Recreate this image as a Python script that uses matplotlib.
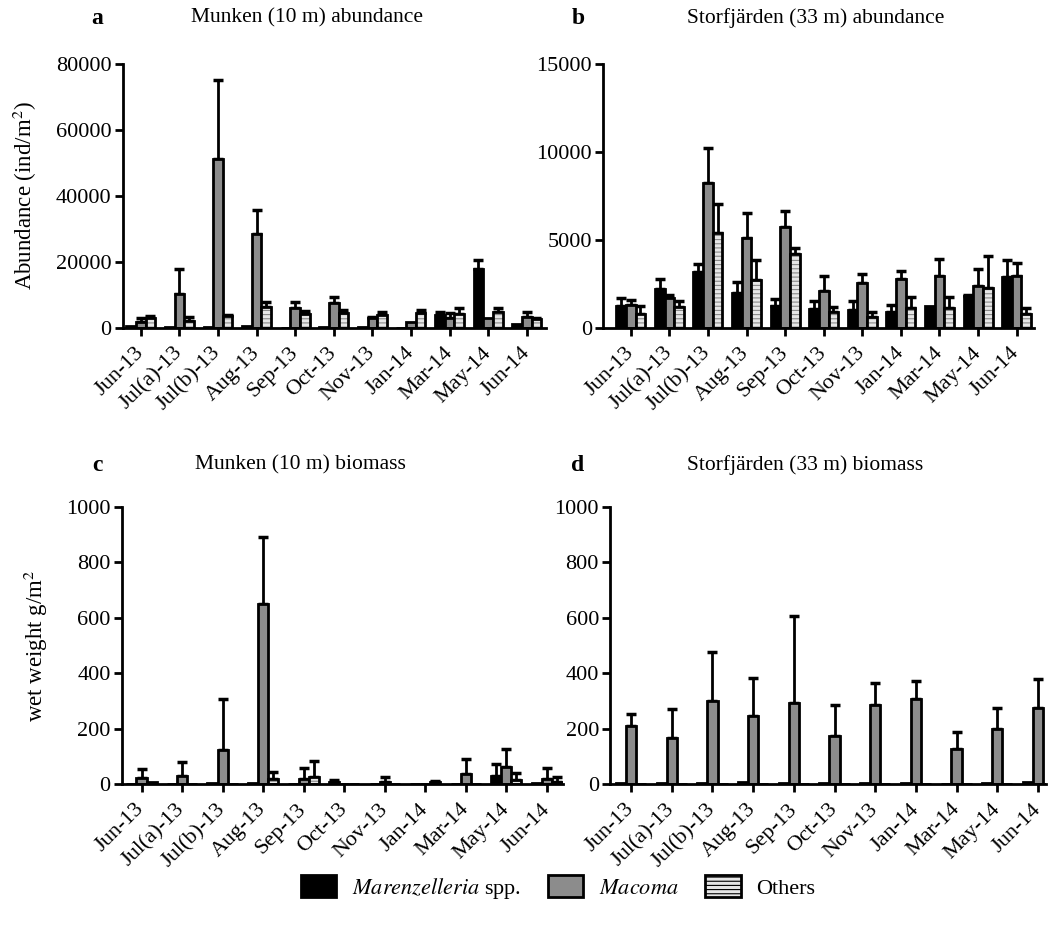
import numpy as np
import matplotlib
matplotlib.use('Agg')
import matplotlib.pyplot as plt
from matplotlib.patches import Patch

plt.rcParams['font.family'] = 'Liberation Serif'
plt.rcParams['mathtext.fontset'] = 'stix'
plt.rcParams['font.size'] = 16
plt.rcParams['hatch.linewidth'] = 0.8

months = ['Jun-13', 'Jul(a)-13', 'Jul(b)-13', 'Aug-13', 'Sep-13', 'Oct-13',
          'Nov-13', 'Jan-14', 'Mar-14', 'May-14', 'Jun-14']

# Munken abundance (ind/m2): mean and SD
munA_mar = [700, 200, 200, 500, 100, 200, 200, 100, 3800, 17900, 1100]
munA_mar_sd = [0, 0, 0, 0, 0, 0, 0, 0, 1200, 2700, 0]
munA_mac = [1900, 10300, 51300, 28600, 6100, 7600, 3100, 1900, 2900, 3100, 3200]
munA_mac_sd = [1000, 7500, 23800, 7200, 1800, 1700, 300, 0, 1700, 0, 1500]
munA_oth = [3100, 2100, 3600, 6500, 4100, 4400, 3800, 4500, 4200, 4900, 2600]
munA_oth_sd = [600, 1200, 300, 1400, 1100, 1000, 900, 900, 2000, 1300, 400]

# Storfjärden abundance
stoA_mar = [1230, 2210, 3160, 1990, 1230, 1100, 1040, 930, 1270, 1800, 2890]
stoA_mar_sd = [450, 590, 470, 640, 430, 410, 470, 380, 0, 50, 990]
stoA_mac = [1290, 1700, 8230, 5130, 5730, 2120, 2540, 2800, 2930, 2370, 2930]
stoA_mac_sd = [300, 190, 1990, 1400, 930, 850, 530, 450, 990, 960, 760]
stoA_oth = [810, 1170, 5390, 2740, 4180, 890, 610, 1150, 1150, 2270, 790]
stoA_oth_sd = [420, 380, 1630, 1140, 380, 300, 320, 630, 630, 1840, 330]

# Munken biomass (wet weight g/m2)
munB_mar = [2, 1, 3, 5, 1, 8, 1, 0, 1, 30, 5]
munB_mar_sd = [0, 0, 0, 0, 0, 8, 0, 0, 0, 44, 0]
munB_mac = [22, 30, 122, 650, 18, 1, 8, 1, 38, 64, 20]
munB_mac_sd = [33, 50, 184, 242, 40, 0, 18, 0, 53, 63, 40]
munB_oth = [8, 1, 1, 18, 28, 0, 0, 10, 0, 16, 10]
munB_oth_sd = [0, 0, 0, 28, 56, 0, 0, 2, 0, 24, 15]

# Storfjärden biomass
stoB_mar = [5, 3, 5, 10, 5, 3, 5, 5, 2, 5, 10]
stoB_mar_sd = [0] * 11
stoB_mac = [211, 168, 299, 247, 293, 175, 286, 307, 126, 201, 274]
stoB_mac_sd = [42, 105, 178, 136, 313, 109, 79, 64, 63, 73, 107]
stoB_oth = [2, 1, 1, 2, 1, 1, 1, 1, 1, 1, 1]
stoB_oth_sd = [0] * 11

W, H = 1049, 931
fig = plt.figure(figsize=(W / 100, H / 100), dpi=100)


def px_axes(left, top, right, bottom):
    return fig.add_axes([left / W, 1 - bottom / H, (right - left) / W, (bottom - top) / H])


def draw(ax, series, ymax, ystep, xlim):
    x = np.arange(len(months))
    bw = 0.25
    offs = [-bw, 0, bw]
    for (vals, sd, kind), off in zip(series, offs):
        xs = x + off
        if kind == 'mar':
            ax.bar(xs, vals, bw, color='black', edgecolor='black', linewidth=2, zorder=2)
        elif kind == 'mac':
            ax.bar(xs, vals, bw, color='#8c8c8c', edgecolor='black', linewidth=2, zorder=2)
        else:
            ax.bar(xs, vals, bw, color='#e6e6e6', edgecolor='#8a8a8a', hatch='----',
                   linewidth=0, zorder=2)
            ax.bar(xs, vals, bw, fill=False, edgecolor='black', linewidth=2, zorder=3)
        vals = np.array(vals, dtype=float)
        sd = np.array(sd, dtype=float)
        m = sd > 0
        ax.errorbar(xs[m], vals[m], yerr=[np.zeros(m.sum()), sd[m]], fmt='none',
                    ecolor='black', elinewidth=2, capsize=3.5, capthick=2.5, zorder=1)
    ax.set_xlim(*xlim)
    ax.set_ylim(0, ymax)
    ax.set_yticks(np.arange(0, ymax + 1, ystep))
    ax.set_xticks(x)
    ax.set_xticklabels(months, rotation=45, ha='right', va='center',
                       rotation_mode='anchor')
    for s in ['top', 'right']:
        ax.spines[s].set_visible(False)
    for s in ['left', 'bottom']:
        ax.spines[s].set_linewidth(2)
    ax.tick_params(width=2, length=6, labelsize=16)
    ax.tick_params(axis='x', pad=10)
    ax.tick_params(axis='y', pad=2)


ax1 = px_axes(122.7, 64, 546, 328)
draw(ax1, [(munA_mar, munA_mar_sd, 'mar'), (munA_mac, munA_mac_sd, 'mac'),
           (munA_oth, munA_oth_sd, 'oth')], 80000, 20000, (-0.47, 10.5))
ax2 = px_axes(603, 64, 1034, 328)
draw(ax2, [(stoA_mar, stoA_mar_sd, 'mar'), (stoA_mac, stoA_mac_sd, 'mac'),
           (stoA_oth, stoA_oth_sd, 'oth')], 15000, 5000, (-0.72, 10.45))
ax3 = px_axes(121.7, 506.7, 563, 784.3)
draw(ax3, [(munB_mar, munB_mar_sd, 'mar'), (munB_mac, munB_mac_sd, 'mac'),
           (munB_oth, munB_oth_sd, 'oth')], 1000, 200, (-0.49, 10.4))
ax4 = px_axes(610, 506.7, 1046, 784.3)
draw(ax4, [(stoB_mar, stoB_mar_sd, 'mar'), (stoB_mac, stoB_mac_sd, 'mac'),
           (stoB_oth, stoB_oth_sd, 'oth')], 1000, 200, (-0.52, 10.2))

ax1.set_ylabel(r'Abundance (ind/m$^2$)', fontsize=16.5)
ax1.yaxis.set_label_coords(-0.198, 0.5)
ax3.set_ylabel(r'wet weight g/m$^2$', fontsize=16.5)
ax3.yaxis.set_label_coords(-0.163, 0.5)

fig.text(97 / W, 1 - 18 / H, 'a', fontsize=17, fontweight='bold', ha='center', va='center')
fig.text(307 / W, 1 - 18 / H, 'Munken (10 m) abundance', fontsize=15.5, ha='center', va='center')
fig.text(578 / W, 1 - 18 / H, 'b', fontsize=17, fontweight='bold', ha='center', va='center')
fig.text(816 / W, 1 - 18 / H, 'Storfjärden (33 m) abundance', fontsize=15.5, ha='center', va='center')
fig.text(97 / W, 1 - 465 / H, 'c', fontsize=17, fontweight='bold', ha='center', va='center')
fig.text(300 / W, 1 - 465 / H, 'Munken (10 m) biomass', fontsize=15.5, ha='center', va='center')
fig.text(578 / W, 1 - 465 / H, 'd', fontsize=17, fontweight='bold', ha='center', va='center')
fig.text(805 / W, 1 - 465 / H, 'Storfjärden (33 m) biomass', fontsize=15.5, ha='center', va='center')

handles = [Patch(facecolor='black', edgecolor='black', linewidth=2),
           Patch(facecolor='#8c8c8c', edgecolor='black', linewidth=2),
           Patch(facecolor='#e6e6e6', edgecolor='black', linewidth=2, hatch='----')]
labels = [r'$\it{Marenzelleria}$ spp.', r'$\it{Macoma}$', 'Others']
fig.legend(handles, labels, loc='center', bbox_to_anchor=(558 / W, 1 - 888 / H),
           ncol=3, frameon=False, fontsize=16, handlelength=1.6, handleheight=1.1,
           columnspacing=1.2, handletextpad=0.7)

fig.savefig('out.png', dpi=100)
